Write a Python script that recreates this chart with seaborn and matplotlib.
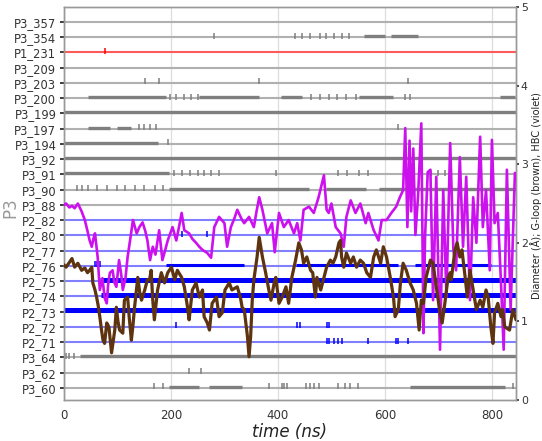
import matplotlib
matplotlib.use("Agg")
import matplotlib.pyplot as plt
import seaborn as sns
import pandas as pd

# contact rows, top to bottom
ROWS = ["P3_357", "P3_354", "P1_231", "P3_209", "P3_203", "P3_200", "P3_199",
        "P3_197", "P3_194", "P3_92", "P3_91", "P3_90", "P3_88", "P2_82",
        "P2_80", "P2_77", "P2_76", "P2_75", "P2_74", "P2_73", "P2_72",
        "P2_71", "P3_64", "P3_62", "P3_60"]

# continuous contact periods (ns)
BANDS = {
    "P3_354": [(560, 600), (612, 662)],
    "P3_200": [(45, 191), (253, 365), (405, 445), (551, 616), (815, 843)],
    "P3_199": [(0, 845)],
    "P3_197": [(45, 86), (100, 126)],
    "P3_194": [(0, 175)],
    "P3_92": [(0, 845)],
    "P3_91": [(0, 197)],
    "P3_90": [(197, 458), (489, 564), (588, 845)],
    "P2_76": [(191, 337), (433, 625), (657, 798)],
    "P2_75": [(67, 845)],
    "P2_74": [(70, 845)],
    "P2_73": [(0, 845)],
    "P3_64": [(30, 845)],
    "P3_60": [(197, 253), (272, 333), (647, 824)],
}

# single short contacts (ns)
TICKS = {
    "P3_354": [281, 432, 445, 460, 478, 490, 505, 520, 532],
    "P1_231": [76],
    "P3_203": [151, 177, 365, 644],
    "P3_200": [198, 210, 225, 238, 250, 462, 478, 495, 510, 528, 545, 638, 647],
    "P3_197": [140, 150, 160, 172, 625],
    "P3_194": [195],
    "P3_91": [205, 220, 236, 250, 262, 275, 290, 396, 513, 530, 552, 569, 686, 700, 712, 724],
    "P3_90": [25, 33, 45, 62, 80, 100, 115, 132, 150, 170, 185],
    "P2_80": [221, 268],
    "P2_76": [58, 62, 67],
    "P2_72": [210, 436, 442, 491, 495],
    "P2_71": [491, 495, 505, 512, 519, 569, 621, 625, 644],
    "P3_64": [3, 10, 18],
    "P3_62": [234, 257],
    "P3_60": [169, 185, 383, 407, 412, 417, 452, 460, 468, 476, 513, 525, 535, 550, 839],
}

# HBC diameter (violet)
HBC_T = [0, 4, 10, 15, 20, 26, 33, 39, 44, 48, 52, 55, 58, 63, 67, 72, 76, 80, 83, 86,
         91, 94, 98, 103, 107, 110, 115, 119, 124, 129, 136, 141, 147, 152, 156, 161,
         166, 171, 178, 184, 189, 194, 203, 210, 215, 220, 225, 234, 240, 247, 253,
         259, 268, 275, 281, 290, 300, 305, 312, 318, 324, 333, 337, 346, 355, 360,
         365, 371, 380, 389, 394, 402, 411, 420, 430, 436, 442, 448, 458, 467, 476,
         482, 486, 491, 495, 500, 508, 517, 523, 528, 536, 545, 554, 564, 569, 579,
         588, 594, 603, 612, 621, 628, 634, 638, 642, 646, 649, 653, 657, 662, 668,
         672, 675, 680, 685, 690, 696, 703, 709, 715, 722, 728, 733, 740, 746, 752,
         759, 765, 771, 778, 783, 789, 796, 800, 805, 811, 817, 822, 828, 835, 843]
HBC_V = [2.48, 2.50, 2.45, 2.47, 2.44, 2.50, 2.40, 2.29, 2.15, 2.03, 1.95, 2.05, 2.12,
         1.82, 1.40, 1.55, 1.30, 1.23, 1.50, 1.62, 1.65, 1.50, 1.44, 1.78, 1.60, 1.40,
         1.55, 1.82, 2.05, 2.29, 2.12, 2.20, 2.26, 2.15, 2.03, 1.78, 1.95, 1.85, 2.16,
         1.78, 1.90, 2.03, 2.20, 2.03, 2.20, 2.38, 2.16, 2.12, 2.05, 2.00, 1.95, 1.91,
         1.87, 1.81, 2.20, 2.33, 2.25, 1.95, 2.20, 2.30, 2.42, 2.29, 2.25, 2.33, 2.20,
         2.40, 2.58, 2.42, 2.12, 2.25, 1.88, 2.38, 2.20, 2.29, 2.12, 2.25, 2.03, 2.42,
         2.46, 2.38, 2.58, 2.75, 2.86, 2.42, 2.38, 2.50, 2.20, 2.12, 1.95, 2.33, 2.54,
         2.38, 2.50, 2.25, 2.38, 2.16, 2.03, 2.29, 2.29, 2.38, 2.46, 2.58, 2.67, 3.46,
         2.20, 3.30, 2.40, 3.20, 2.10, 2.60, 3.52, 0.85, 2.07, 2.90, 2.93, 1.27, 2.84,
         0.64, 2.67, 1.31, 3.27, 1.91, 1.65, 3.09, 1.95, 2.84, 1.27, 2.58, 2.00, 3.35,
         2.20, 2.67, 1.65, 3.31, 2.25, 2.38, 1.49, 0.64, 2.93, 1.15, 2.89]

# G-loop diameter (brown)
GLOOP_T = [0, 4, 10, 15, 20, 26, 33, 39, 44, 48, 52, 54, 58, 61, 64, 67, 70, 73, 76,
           80, 84, 89, 92, 95, 98, 101, 104, 110, 113, 119, 122, 126, 129, 132, 138,
           142, 145, 151, 156, 160, 163, 166, 169, 175, 182, 188, 194, 201, 207, 212,
           220, 225, 231, 234, 240, 247, 253, 259, 262, 268, 272, 277, 285, 290, 296,
           301, 309, 314, 324, 330, 333, 337, 343, 346, 349, 352, 355, 361, 365, 371,
           377, 383, 387, 393, 396, 402, 408, 415, 420, 426, 433, 439, 444, 448, 454,
           461, 465, 470, 473, 480, 486, 491, 498, 503, 508, 514, 517, 519, 523, 528,
           536, 541, 547, 554, 560, 566, 573, 579, 584, 592, 597, 603, 610, 616, 619,
           625, 629, 634, 640, 647, 653, 659, 664, 668, 672, 677, 685, 690, 696, 703,
           707, 712, 718, 722, 724, 731, 735, 740, 744, 750, 754, 759, 765, 771, 778,
           783, 789, 793, 798, 802, 805, 811, 817, 820, 824, 833, 839, 845]
GLOOP_V = [1.72, 1.69, 1.75, 1.80, 1.69, 1.74, 1.65, 1.68, 1.62, 1.65, 1.69, 1.49,
           1.40, 1.31, 1.20, 1.06, 0.90, 0.76, 0.72, 0.98, 0.93, 0.60, 0.75, 0.89, 1.18,
           1.00, 0.89, 0.85, 1.27, 1.31, 1.05, 0.76, 0.95, 1.18, 1.56, 1.35, 1.27, 1.40,
           1.53, 1.53, 1.65, 1.27, 1.02, 1.40, 1.62, 1.49, 1.62, 1.69, 1.53, 1.65, 1.56,
           1.44, 1.18, 1.02, 1.40, 1.49, 1.31, 1.40, 1.06, 0.98, 0.89, 1.23, 1.31, 1.06,
           1.11, 1.40, 1.49, 1.40, 1.44, 1.30, 1.18, 1.15, 0.81, 0.55, 0.81, 1.27, 1.53,
           1.82, 2.07, 1.82, 1.62, 1.40, 1.27, 1.49, 1.56, 1.23, 1.31, 1.44, 1.23, 1.56,
           1.78, 2.00, 1.91, 1.74, 1.82, 1.65, 1.62, 1.31, 1.56, 1.40, 1.56, 1.69, 1.78,
           1.74, 1.82, 2.00, 2.03, 1.82, 1.69, 1.87, 1.74, 1.82, 1.69, 1.78, 1.74, 1.62,
           1.56, 1.82, 1.91, 1.74, 1.95, 1.82, 1.56, 1.31, 1.06, 1.15, 1.49, 1.74, 1.65,
           1.49, 1.40, 1.23, 0.89, 1.27, 1.23, 1.56, 1.78, 1.74, 1.44, 1.11, 0.98, 1.23,
           1.56, 1.62, 1.53, 1.91, 2.00, 1.82, 1.91, 1.56, 1.31, 1.65, 1.40, 1.15, 1.27,
           1.18, 1.40, 1.31, 0.93, 0.72, 1.11, 1.23, 1.06, 1.15, 0.93, 0.89, 1.15, 1.02]

X_TICKS = [0, 200, 400, 600, 800]
RIGHT_TICKS = [0, 1, 2, 3, 4, 5]

ROW_STYLE = {
    "P3": ("#b0b0b0", "#7f7f7f"),
    "P1": ("#ff5a5a", "#ff0000"),
    "P2": ("#8080ff", "#0000ff"),
}


def row_pos(label):
    return len(ROWS) - 1 - ROWS.index(label)


def main():
    sns.set_theme(style="white")
    fig = plt.figure(figsize=(5.42, 4.41), dpi=100)
    ax = fig.add_axes([0.118, 0.093, 0.834, 0.891])

    # row baselines
    for label in ROWS:
        line_c, _ = ROW_STYLE[label[:2]]
        y = row_pos(label)
        ax.axhline(y, color=line_c, lw=1.5, zorder=1)

    # contact bands and ticks
    for label, spans in BANDS.items():
        _, ev_c = ROW_STYLE[label[:2]]
        y = row_pos(label)
        thick = 3.6 if label in ("P2_75", "P2_74", "P2_73") else 2.4
        if label == "P2_76":
            thick = 2.2
        for start, end in spans:
            ax.hlines(y + 0.08, start, end, color=ev_c, lw=thick, zorder=2)

    for label, times in TICKS.items():
        _, ev_c = ROW_STYLE[label[:2]]
        y = row_pos(label)
        ax.plot(times, [y + 0.1] * len(times), ls="none", marker="|",
                ms=4, mew=1.1, color=ev_c, zorder=2)

    ax.set_xlim(0, 845)
    ax.set_ylim(-0.79, 24.98)
    ax.set_yticks(range(len(ROWS)))
    ax.set_yticklabels(ROWS[::-1], fontsize=8.3, color="#333333")
    ax.set_xticks(X_TICKS)
    ax.tick_params(axis="x", labelsize=8.5, colors="#333333", length=3)
    ax.tick_params(axis="y", length=3, pad=2.5, left=True)
    ax.grid(axis="x", color="#dddddd", lw=0.9)
    ax.set_axisbelow(True)
    ax.set_xlabel("time (ns)", fontsize=12, style="italic", color="#222222")
    ax.xaxis.set_label_coords(0.5, -0.058)
    ax.set_ylabel("P3", fontsize=12, color="#999999")
    ax.yaxis.set_label_coords(-0.098, 0.49)

    ax2 = ax.twinx()
    hbc = pd.DataFrame({"t": HBC_T, "d": HBC_V})
    gloop = pd.DataFrame({"t": GLOOP_T, "d": GLOOP_V})
    sns.lineplot(data=hbc, x="t", y="d", ax=ax2, color="#cc11ee", lw=1.9,
                 zorder=4)
    sns.lineplot(data=gloop, x="t", y="d", ax=ax2, color="#5e3410", lw=2.3,
                 zorder=5)
    ax2.set_ylim(0, 5)
    ax2.set_xlim(0, 845)
    ax2.set_yticks(RIGHT_TICKS)
    ax2.tick_params(axis="y", labelsize=7.8, colors="#333333", length=2.5,
                    pad=1, right=True)
    ax2.set_xlabel("")
    ax2.set_ylabel("Diameter (Å); G-loop (brown), HBC (violet)", fontsize=7,
                   color="#222222")
    ax2.yaxis.set_label_coords(1.031, 0.52)
    ax2.grid(False)

    for a in (ax, ax2):
        for side in a.spines:
            a.spines[side].set_color("#999999")
            a.spines[side].set_linewidth(1.0)

    fig.savefig("out.png", dpi=100)
    plt.close(fig)


if __name__ == "__main__":
    main()
